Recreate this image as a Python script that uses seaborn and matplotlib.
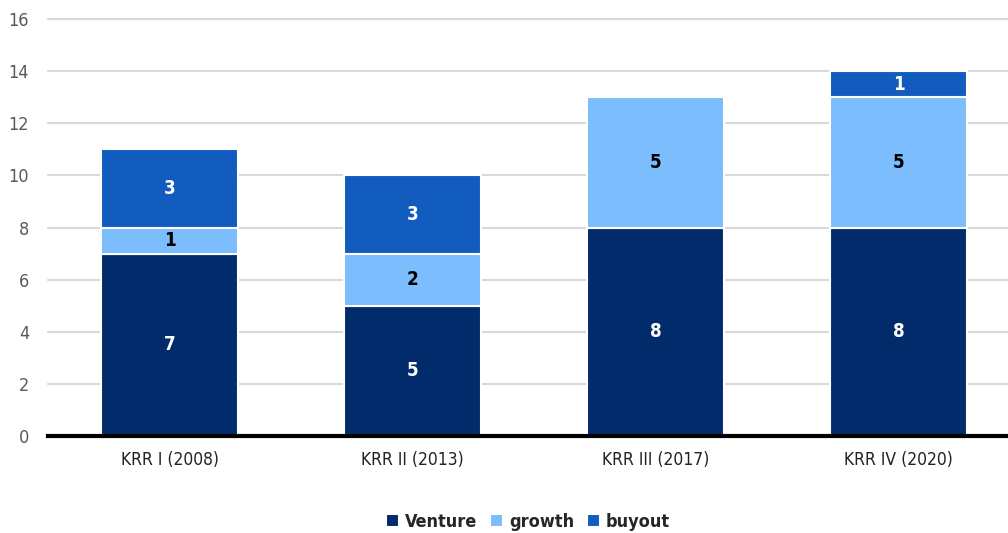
import seaborn as sns
import matplotlib.pyplot as plt
import numpy as np
import pandas as pd

sns.set_style("white")
plt.rcParams['font.family'] = ['DejaVu Sans']
plt.rcParams['font.stretch'] = 'condensed'

funds = ["KRR I (2008)", "KRR II (2013)", "KRR III (2017)", "KRR IV (2020)"]
venture = [7, 5, 8, 8]
growth = [1, 2, 5, 5]
buyout = [3, 3, 0, 1]

series = [("Venture", venture, "#022b6b", "white"),
          ("growth", growth, "#7bbdfd", "black"),
          ("buyout", buyout, "#125bbf", "white")]

fig = plt.figure(figsize=(10.08, 5.33), dpi=100)
ax = fig.add_axes([0.048, 0.182, 0.952, 0.782])

bottom = np.zeros(len(funds))
for name, vals, color, tc in series:
    df = pd.DataFrame({"fund": funds, "value": vals})
    sns.barplot(data=df, x="fund", y="value", bottom=bottom, color=color,
                width=0.565, edgecolor="white", linewidth=1.5, label=name,
                saturation=1, ax=ax)
    for i, v in enumerate(vals):
        if v > 0:
            ax.text(i, bottom[i] + v / 2, str(v), ha="center", va="center",
                    color=tc, fontsize=13.5, fontweight="bold")
    bottom = bottom + np.array(vals)

ax.set_ylim(0, 16)
ax.set_xlim(-0.5, 3.45)
ax.set_yticks(range(0, 17, 2))
ax.yaxis.grid(True, color="#d9d9d9", linewidth=1.5)
for gl in ax.get_ygridlines():
    gl.set_clip_on(False)
ax.set_axisbelow(True)
for s in ["top", "right", "left"]:
    ax.spines[s].set_visible(False)
ax.spines["bottom"].set_color("black")
ax.spines["bottom"].set_linewidth(3)
ax.tick_params(axis="y", length=0, labelsize=13, labelcolor="#595959", pad=14)
ax.tick_params(axis="x", length=0, labelsize=12.5, labelcolor="#222222", pad=11)
ax.set_xlabel("")
ax.set_ylabel("")

ax.legend(loc="upper center", bbox_to_anchor=(0.5, -0.145), ncol=3, frameon=False,
          handlelength=0.7, handleheight=0.7, handletextpad=0.35, columnspacing=0.7,
          prop={"size": 13, "weight": "bold", "stretch": "condensed"})

fig.savefig("out.png", dpi=100)
